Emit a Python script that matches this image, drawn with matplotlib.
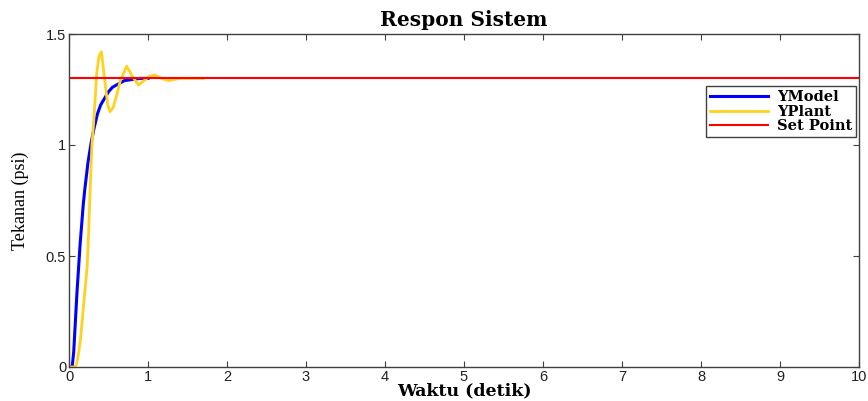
import matplotlib
matplotlib.use("Agg")
import matplotlib.pyplot as plt
from matplotlib.ticker import MultipleLocator, FuncFormatter

# Data
t_model = [0.00, 0.04, 0.06, 0.08, 0.10, 0.12, 0.14, 0.16, 0.18, 0.20, 0.24, 0.28,
           0.32, 0.36, 0.40, 0.45, 0.50, 0.55, 0.60, 0.70, 0.80, 0.90, 1.00]
y_model = [0.00, 0.00, 0.07, 0.20, 0.33, 0.44, 0.55, 0.64, 0.73, 0.80, 0.92, 1.01,
           1.08, 1.14, 1.18, 1.21, 1.24, 1.26, 1.27, 1.29, 1.295, 1.30, 1.30]

t_plant = [0.00, 0.08, 0.10, 0.12, 0.144, 0.17, 0.203, 0.23, 0.25, 0.27, 0.29, 0.31,
           0.33, 0.35, 0.38, 0.41, 0.45, 0.49, 0.52, 0.56, 0.60, 0.65, 0.73, 0.80,
           0.88, 0.95, 1.02, 1.09, 1.17, 1.26, 1.40, 1.54, 1.70]
y_plant = [0.00, 0.00, 0.02, 0.06, 0.12, 0.22, 0.35, 0.45, 0.62, 0.82, 1.00, 1.09,
           1.20, 1.32, 1.40, 1.42, 1.30, 1.18, 1.15, 1.17, 1.22, 1.29, 1.355, 1.31,
           1.27, 1.29, 1.31, 1.315, 1.30, 1.29, 1.30, 1.30, 1.30]

t_set = [0, 10]
y_set = [1.3, 1.3]

title = "Respon Sistem"
xlabel = "Waktu (detik)"
ylabel = "Tekanan (psi)"
labels = ["YModel", "YPlant", "Set Point"]

fig = plt.figure(figsize=(8.68, 4.01), dpi=100)
ax = fig.add_axes([69/868, (401-367)/401, 790/868, 333/401])

ax.plot(t_model, y_model, color="#0000FF", lw=2.2, label=labels[0])
ax.plot(t_plant, y_plant, color="#FFD21F", lw=2.0, label=labels[1])
ax.plot(t_set, y_set, color="#FF0000", lw=1.5, label=labels[2])

ax.set_xlim(0, 10)
ax.set_ylim(0, 1.5)
ax.xaxis.set_major_locator(MultipleLocator(1))
ax.yaxis.set_major_locator(MultipleLocator(0.5))
ax.yaxis.set_major_formatter(FuncFormatter(lambda v, p: f"{v:g}"))

for s in ax.spines.values():
    s.set_color("#404040")
    s.set_linewidth(1.0)
ax.tick_params(direction="in", top=True, right=True, length=4, width=0.8,
               color="#404040", labelsize=10.5, pad=2, labelcolor="#202020")
for lab in ax.get_xticklabels() + ax.get_yticklabels():
    lab.set_family(["Liberation Sans"])

ax.set_title(title, fontfamily="DejaVu Serif", fontweight="bold", fontsize=14.5, pad=6)
ax.set_xlabel(xlabel, fontfamily="DejaVu Serif", fontweight="bold", fontsize=12.5, labelpad=-1)
ax.set_ylabel(ylabel, fontfamily="Liberation Serif", fontsize=13, labelpad=12)

leg = ax.legend(loc="upper right", bbox_to_anchor=(0.996, 0.843), borderaxespad=0,
                prop={"family": "DejaVu Serif", "weight": "bold", "size": 10.5},
                fancybox=False, framealpha=1, edgecolor="#404040",
                handlelength=4.0, handletextpad=0.6, labelspacing=0.05,
                borderpad=0.25)
leg.get_frame().set_linewidth(1.0)

fig.savefig("out.png", dpi=100)
